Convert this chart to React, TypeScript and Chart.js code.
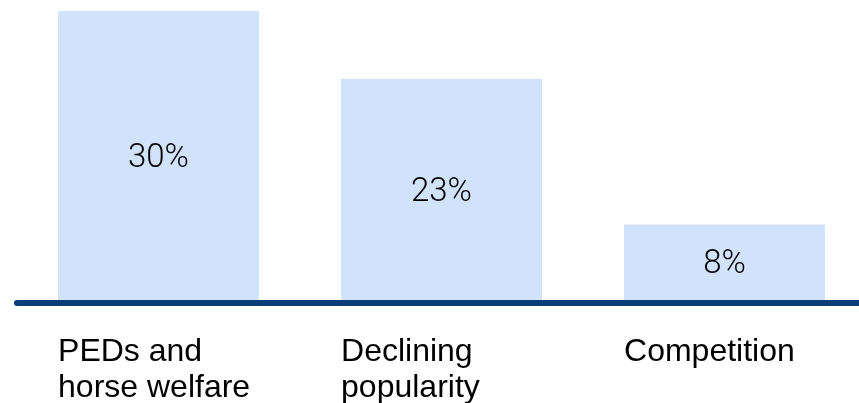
import React, { useEffect, useRef } from "react";
import { Chart, registerables } from "chart.js";

Chart.register(...registerables);

const categories: string[][] = [
  ["PEDs and", "horse welfare"],
  ["Declining", "popularity"],
  ["Competition"],
];
const values: number[] = [30, 23, 8];
const valueLabels: string[] = ["30%", "23%", "8%"];

const BAR_COLOR = "#d0e3fb";
const AXIS_COLOR = "#0b3d78";

const labelsPlugin = {
  id: "customLabels",
  afterDatasetsDraw(chart: any) {
    const ctx = chart.ctx;
    const area = chart.chartArea;
    const meta = chart.getDatasetMeta(0);
    ctx.save();
    // value labels centered in bars
    ctx.font = "300 33px Roboto";
    ctx.fillStyle = "#000000";
    ctx.textAlign = "center";
    ctx.textBaseline = "middle";
    meta.data.forEach((bar: any, i: number) => {
      const cy = (bar.y + bar.base) / 2 + 2;
      ctx.fillText(valueLabels[i], bar.x, cy);
    });
    // baseline
    ctx.beginPath();
    ctx.lineCap = "round";
    ctx.lineWidth = 6;
    ctx.strokeStyle = AXIS_COLOR;
    ctx.moveTo(area.left, area.bottom + 1);
    ctx.lineTo(chart.width + 10, area.bottom + 1);
    ctx.stroke();
    // category labels, left aligned with bars
    ctx.font = "32px 'Liberation Sans', Arial, sans-serif";
    ctx.fillStyle = "#000000";
    ctx.textAlign = "left";
    ctx.textBaseline = "alphabetic";
    meta.data.forEach((bar: any, i: number) => {
      const left = bar.x - bar.width / 2;
      categories[i].forEach((line, j) => {
        ctx.fillText(line, left, area.bottom + 59 + j * 36);
      });
    });
    ctx.restore();
  },
};

export default function App() {
  const ref = useRef<HTMLCanvasElement | null>(null);
  useEffect(() => {
    document.body.style.margin = "0";
    document.body.style.overflow = "hidden";
    const canvas = ref.current!;
    const chart = new Chart(canvas, {
      type: "bar",
      data: {
        labels: categories.map((c) => c.join(" ")),
        datasets: [
          {
            data: values,
            backgroundColor: BAR_COLOR,
            borderWidth: 0,
            barPercentage: 0.71,
            categoryPercentage: 1,
          },
        ],
      },
      options: {
        responsive: false,
        animation: false,
        events: [],
        layout: { padding: { left: 17, right: 0, top: 11, bottom: 101 } },
        plugins: {
          legend: { display: false },
          tooltip: { enabled: false },
        },
        scales: {
          x: { display: false, offset: true },
          y: { display: false, min: 0, max: 30 },
        },
      },
      plugins: [labelsPlugin],
    });
    return () => chart.destroy();
  }, []);
  return (
    <div style={{ width: 859, height: 403, overflow: "hidden", background: "#fff" }}>
      <canvas ref={ref} width={866} height={403} style={{ display: "block" }} />
    </div>
  );
}
